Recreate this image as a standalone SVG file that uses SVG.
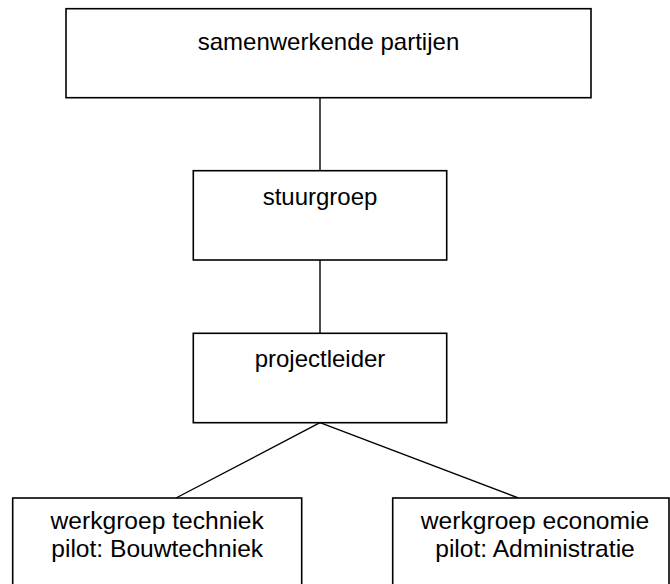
<svg xmlns="http://www.w3.org/2000/svg" width="670" height="584" viewBox="0 0 670 584">
<style>
.box{fill:#fff;stroke:#000;stroke-width:1.6}
.t{font-family:"Liberation Sans",Arial,sans-serif;font-size:24px;fill:#000;text-anchor:middle}
.b{font-size:24.6px}
.c{stroke:#000;stroke-width:1.4;fill:none}
</style>
<rect width="670" height="584" fill="#fff"/>
<g id="connectors">
<line class="c" x1="320" y1="97.7" x2="320" y2="170.7"/>
<line class="c" x1="320" y1="260" x2="320" y2="333.3"/>
<line class="c" x1="320" y1="422.7" x2="176" y2="498"/>
<line class="c" x1="320" y1="422.7" x2="518.3" y2="498"/>
</g>
<g id="samenwerkende">
<rect class="box" x="66" y="8.7" width="525" height="89"/>
<text class="t" x="328.5" y="50">samenwerkende partijen</text>
</g>
<g id="stuurgroep">
<rect class="box" x="193.3" y="170.7" width="253.4" height="89.3"/>
<text class="t" x="320" y="205">stuurgroep</text>
</g>
<g id="projectleider">
<rect class="box" x="193.3" y="333.3" width="253.4" height="89.4"/>
<text class="t" x="320" y="366.7">projectleider</text>
</g>
<g id="techniek">
<rect class="box" x="12.7" y="498" width="289" height="100"/>
<text class="t b" x="157.2" y="529">werkgroep techniek</text>
<text class="t b" x="157.2" y="557">pilot: Bouwtechniek</text>
</g>
<g id="economie">
<rect class="box" x="392.7" y="498" width="276.3" height="100"/>
<text class="t b" x="535" y="529">werkgroep economie</text>
<text class="t b" x="535" y="557">pilot: Administratie</text>
</g>
</svg>
